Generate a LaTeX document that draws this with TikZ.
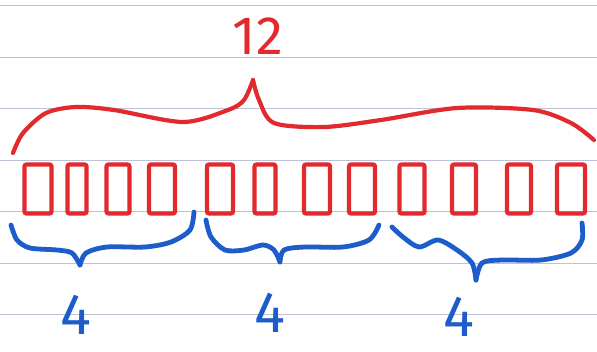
\documentclass[tikz,border=0pt]{standalone}
\usepackage{fontspec}
\setmainfont{Fira Sans}
\definecolor{PenRed}{HTML}{E2292E}
\definecolor{PenBlue}{HTML}{1D5CCB}
\definecolor{RuleLine}{HTML}{BEC2D6}

\tikzset{
  ruled/.style={RuleLine,line width=1pt},
  tile/.style={draw=PenRed,line width=4.2pt,rounded corners=2pt,
    minimum height=49pt,inner sep=0pt},
  redbrace/.style={PenRed,line width=4.2pt,line cap=round,line join=round},
  bluebrace/.style={PenBlue,line width=4.8pt,line cap=round,line join=round},
  total/.style={text=PenRed,inner sep=0pt,font=\fontsize{54}{54}\selectfont},
  part/.style={text=PenBlue,inner sep=0pt,font=\fontsize{58}{58}\selectfont},
}

\begin{document}
\begin{tikzpicture}[x=1pt,y=-1pt]
\path[use as bounding box] (0,0) rectangle (597,351);
\fill[white] (0,0) rectangle (597,351);
% ruled paper
\foreach \y in {5,57,108,160,211,263,314}
  \draw[ruled] (0,\y) -- (597,\y);
% twelve boxes
\foreach \i/\x/\w in {1/38/27,2/77/19,3/118/23,4/162/26,5/220/26,6/265/21,
    7/317/26,8/362/26,9/412/25,10/464/24,11/519/24,12/571/28}
  \node[tile,minimum width=\w pt] (r\i) at (\x,189) {};
% brace over all of them
\coordinate (tl) at (13,153);
\coordinate (tt) at (253,80);
\coordinate (tr) at (594,140);
\draw[redbrace] plot[smooth] coordinates {(tl) (23,133) (46,113) (76,107)
  (114,110) (183,122) (228,110) (244,100) (tt)};
\draw[redbrace] plot[smooth] coordinates {(tt) (259,100) (274,123) (324,127)
  (381,120) (457,108) (533,110) (571,123) (tr)};
\node[total] (n12) at (258,36) {12};
% three braces under the groups
\coordinate (al) at (11,225);
\coordinate (at) at (80,265);
\coordinate (ar) at (194,212);
\draw[bluebrace] plot[smooth] coordinates {(al) (17,240) (30,248) (57,250)
  (72,253) (at)};
\draw[bluebrace] plot[smooth] coordinates {(at) (86,253) (107,247) (145,247)
  (171,242) (190,230) (ar)};
\coordinate (bl) at (206,220);
\coordinate (bt) at (280,262);
\coordinate (br) at (379,225);
\draw[bluebrace] plot[smooth] coordinates {(bl) (211,237) (225,250) (244,250)
  (263,245) (274,250) (bt)};
\draw[bluebrace] plot[smooth] coordinates {(bt) (284,250) (305,247) (343,247)
  (369,240) (br)};
\coordinate (cl) at (392,227);
\coordinate (ct) at (476,280);
\coordinate (cr) at (582,223);
\draw[bluebrace] plot[smooth] coordinates {(cl) (403,237) (419,247) (438,240)
  (457,250) (472,263) (ct)};
\draw[bluebrace] plot[smooth] coordinates {(ct) (482,263) (502,260) (541,260)
  (571,253) (582,240) (cr)};
\node[part] (na) at (76,315) {4};
\node[part] (nb) at (270,313) {4};
\node[part] (nc) at (459,317) {4};
\end{tikzpicture}
\end{document}
